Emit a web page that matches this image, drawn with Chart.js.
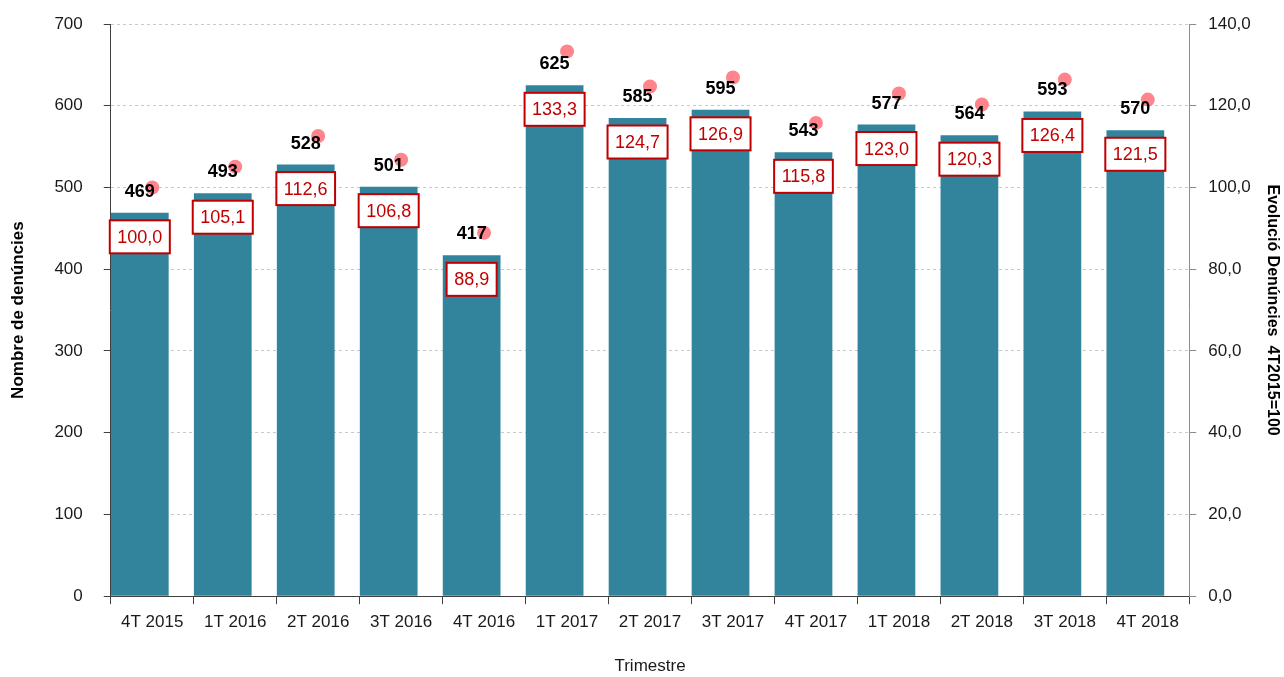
<!DOCTYPE html>
<html>
<head>
<meta charset="utf-8">
<script src="https://cdn.jsdelivr.net/npm/chart.js@4/dist/chart.umd.min.js"></script>
<style>
  html, body { margin: 0; padding: 0; background: #fff; }
  #wrap { width: 1284px; height: 677px; position: relative; }
</style>
</head>
<body>
<div id="wrap"><canvas id="chartDenuncies"></canvas></div>
<script>
const categories = ['4T 2015', '1T 2016', '2T 2016', '3T 2016', '4T 2016', '1T 2017', '2T 2017', '3T 2017', '4T 2017', '1T 2018', '2T 2018', '3T 2018', '4T 2018'];
const denuncies = [469, 493, 528, 501, 417, 625, 585, 595, 543, 577, 564, 593, 570];
const evolucio = [100.0, 105.1, 112.6, 106.8, 88.9, 133.3, 124.7, 126.9, 115.8, 123.0, 120.3, 126.4, 121.5];

const FONT = '"Liberation Sans", Arial, sans-serif';
const RED = '#C00000';

function fmtComma(v){
  return Number(v).toFixed(1).replace('.', ',');
}

// value labels above the bars + boxed index labels just under the bar top
const barLabels = {
  id: 'barLabels',
  afterDatasetsDraw(chart) {
    const ctx = chart.ctx;
    const bars = chart.getDatasetMeta(0).data;
    ctx.save();
    ctx.textAlign = 'center';
    ctx.textBaseline = 'middle';
    bars.forEach((bar, i) => {
      ctx.font = 'bold 18px ' + FONT;
      ctx.fillStyle = '#000';
      ctx.fillText(String(denuncies[i]), bar.x, bar.y - 21);

      const txt = fmtComma(evolucio[i]);
      ctx.font = '18px ' + FONT;
      const w = ctx.measureText(txt).width + 15;
      const h = 33;
      const cy = bar.y + 24;
      ctx.fillStyle = '#fff';
      ctx.fillRect(bar.x - w / 2, cy - h / 2, w, h);
      ctx.lineWidth = 2;
      ctx.strokeStyle = RED;
      ctx.strokeRect(bar.x - w / 2, cy - h / 2, w, h);
      ctx.fillStyle = RED;
      ctx.fillText(txt, bar.x, cy + 1);
    });
    ctx.restore();
  }
};

// big tick padding on the left axis should not push the plot area down
function noTopPadding(scale){
  scale.paddingTop = 0;
}

new Chart(document.getElementById('chartDenuncies'), {
  type: 'bar',
  data: {
    labels: categories,
    datasets: [
      {
        label: 'Nombre de denúncies',
        data: denuncies,
        backgroundColor: '#31849B',
        categoryPercentage: 0.6,
        barPercentage: 2.32,
        yAxisID: 'y',
        order: 2
      },
      {
        // empty spacer so the bars sit on the left part of each category, as in Excel
        label: 'spacer',
        data: [],
        yAxisID: 'y',
        order: 3
      },
      {
        type: 'line',
        label: 'Evolució Denúncies 4T2015=100',
        data: evolucio,
        yAxisID: 'y1',
        showLine: false,
        pointRadius: 7,
        pointHoverRadius: 7,
        pointBorderWidth: 0,
        pointBackgroundColor: 'rgba(255,110,120,0.85)',
        order: 1
      }
    ]
  },
  options: {
    responsive: true,
    maintainAspectRatio: false,
    animation: false,
    layout: { padding: { top: 24, left: 4, right: 0, bottom: 0 } },
    plugins: {
      legend: { display: false },
      tooltip: { enabled: false }
    },
    scales: {
      x: {
        grid: { drawOnChartArea: false, offset: true, tickLength: 8, tickColor: '#404040' },
        border: { color: '#404040', width: 1 },
        ticks: { color: '#1a1a1a', font: { family: FONT, size: 17 }, padding: 8, maxRotation: 0 },
        title: { display: true, text: 'Trimestre', color: '#1a1a1a', font: { family: FONT, size: 17 }, padding: { top: 16, bottom: 0 } }
      },
      y: {
        position: 'left',
        min: 0,
        max: 700,
        afterFit: noTopPadding,
        ticks: { stepSize: 100, color: '#1a1a1a', font: { family: FONT, size: 17 }, padding: 21 },
        grid: { color: '#c8c8c8', tickColor: '#404040', tickLength: 7 },
        border: { color: '#404040', dash: [3, 3] },
        title: { display: true, text: 'Nombre de denúncies', color: '#000', font: { family: FONT, size: 17, weight: 'bold' }, padding: { top: 4, bottom: 5 } }
      },
      y1: {
        position: 'right',
        min: 0,
        max: 140,
        afterFit: noTopPadding,
        ticks: { stepSize: 20, color: '#1a1a1a', font: { family: FONT, size: 17 }, padding: 12, callback: v => fmtComma(v) },
        grid: { drawOnChartArea: false, tickColor: '#8c8c8c', tickLength: 7 },
        border: { color: '#8c8c8c' },
        title: { display: true, text: 'Evolució Denúncies  4T2015=100', color: '#000', font: { family: FONT, size: 16, weight: 'bold' }, padding: { top: 2, bottom: 0 } }
      }
    }
  },
  plugins: [barLabels]
});
</script>
</body>
</html>
